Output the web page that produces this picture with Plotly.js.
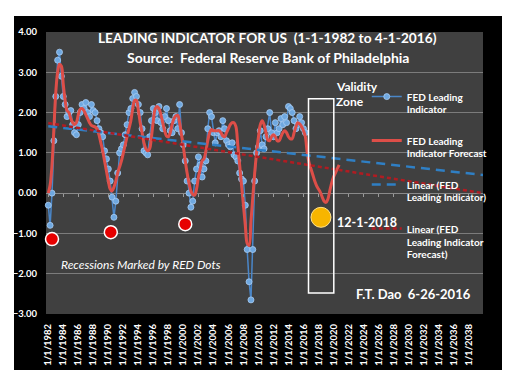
<!DOCTYPE html>
<html>
<head>
<meta charset="utf-8">
<script src="https://cdn.plot.ly/plotly-3.0.1.min.js"></script>
<style>
  html, body { margin: 0; padding: 0; background: #ffffff; width: 516px; height: 387px; overflow: hidden; }
  #chart { position: absolute; left: 14px; top: 16px; width: 488px; height: 354px; }
</style>
</head>
<body>
<div id="chart"></div>
<script>
// ---- DATA ----
// FED Leading Indicator, quarterly readings starting 1982-01
const ledStart = 1982;
const ledValues = [
  -0.3, -0.8, 0.0, 1.3,        // 1982
  2.4, 3.3, 3.5, 2.9,          // 1983
  2.4, 2.2, 1.9, 2.0,          // 1984
  2.05, 1.7, 1.5, 1.45,        // 1985
  1.7, 2.0, 2.2, 2.1,          // 1986
  2.25, 2.0, 1.9, 2.2,         // 1987
  2.05, 2.0, 1.8, 1.6,         // 1988
  1.5, 1.4, 1.05, 0.85,        // 1989
  0.6, 0.3, -0.1, -0.6,        // 1990
  -0.2, 0.5, 1.0, 1.1,         // 1991
  1.2, 1.45, 1.7, 2.0,         // 1992
  2.1, 2.35, 2.5, 2.4,         // 1993
  2.2, 2.0, 1.6, 1.05,         // 1994
  1.0, 0.95, 1.4, 1.8,         // 1995
  2.1, 2.0, 1.8, 2.15,         // 1996
  1.75, 1.6, 1.9, 2.1,         // 1997
  1.8, 1.55, 1.5, 1.8,         // 1998
  1.9, 1.6, 2.2, 1.5,          // 1999
  1.2, 0.8, 0.3, 0.0,          // 2000
  -0.35, -0.2, 0.3, 0.6,       // 2001
  0.9, 0.7, 0.4, 0.6,          // 2002
  0.8, 1.6, 2.0, 1.9,          // 2003
  1.5, 1.25, 1.5, 1.55,        // 2004
  1.4, 1.8, 1.6, 1.3,          // 2005
  1.2, 1.15, 1.25, 0.95,       // 2006
  0.9, 0.8, 0.5, 0.35,         // 2007
  0.3, -0.3, -1.4, -2.2,       // 2008
  -2.65, -1.4, 0.3, 1.0,       // 2009
  1.15, 1.55, 1.2, 1.1,        // 2010
  1.4, 1.6, 2.0, 1.5,          // 2011
  1.4, 1.75, 1.5, 1.6,         // 2012
  1.85, 1.7, 1.9, 1.75,        // 2013
  2.15, 2.1, 2.0, 1.8,         // 2014
  1.6, 1.7, 1.9, 1.75,         // 2015
  1.6, 1.5                     // 2016
];

// FED Leading Indicator Forecast, quarterly readings starting 1982-01
const fcstStart = 1982;
const fcstValues = [
  0.0, 0.2, 0.7, 1.6,          // 1982
  2.5, 3.0, 3.2, 3.15,         // 1983
  2.7, 2.3, 2.05, 2.0,         // 1984
  1.85, 1.75, 1.7, 1.75,       // 1985
  1.95, 2.08, 2.1, 2.05,       // 1986
  1.95, 1.85, 1.75, 1.68,      // 1987
  1.66, 1.64, 1.6, 1.45,       // 1988
  1.25, 1.05, 0.8, 0.55,       // 1989
  0.3, 0.1, 0.05, 0.15,        // 1990
  0.3, 0.5, 0.65, 0.8,         // 1991
  1.0, 1.2, 1.4, 1.6,          // 1992
  1.8, 2.1, 2.3, 2.3,          // 1993
  2.05, 1.75, 1.5, 1.25,       // 1994
  1.1, 1.05, 1.1, 1.4,         // 1995
  1.8, 2.1, 2.15, 2.1,         // 1996
  1.95, 1.75, 1.55, 1.42,      // 1997
  1.4, 1.5, 1.7, 1.85,         // 1998
  1.92, 1.93, 1.75, 1.45,      // 1999
  1.15, 0.8, 0.5, 0.25,        // 2000
  0.05, -0.03, -0.05, 0.1,     // 2001
  0.4, 0.6, 0.8, 0.85,         // 2002
  1.05, 1.3, 1.5, 1.58,        // 2003
  1.55, 1.55, 1.55, 1.55,      // 2004
  1.5, 1.42, 1.4, 1.5,         // 2005
  1.6, 1.7, 1.75, 1.75,        // 2006
  1.65, 1.2, 0.7, 0.2,         // 2007
  -0.3, -0.8, -1.25, -1.3,     // 2008
  -0.7, -0.1, 0.5, 1.0,        // 2009
  1.4, 1.7, 1.8, 1.7,          // 2010
  1.5, 1.32, 1.3, 1.4,         // 2011
  1.45, 1.4, 1.3, 1.3,         // 2012
  1.4, 1.5, 1.55, 1.5,         // 2013
  1.4, 1.35, 1.35, 1.5,        // 2014
  1.65, 1.75, 1.72, 1.65,      // 2015
  1.55, 1.4, 1.0, 0.75,        // 2016
  0.6, 0.45, 0.3, 0.18,        // 2017
  0.1, 0.02, -0.1, -0.2,       // 2018
  -0.23, -0.15, 0.05, 0.25,    // 2019
  0.4, 0.5, 0.6, 0.7           // 2020
];

// Linear trend lines (end points)
const trendDates = ['1982-01-01', '2039-12-01'];
const trendLeading = [1.66, 0.45];
const trendForecast = [1.74, 0.0];

// Recessions (red dots) and the 12-1-2018 marker
const recessionDates = ['1982-07-01', '1990-05-01', '2000-04-01', '2007-12-01'];
const recessionValues = [-1.14, -0.97, -0.77, -3.03];
const warnDates = ['2018-05-01'];
const warnValues = [-0.6];

// Validity zone box
const zoneX = ['2016-09-01', '2020-01-15'];
const zoneY = [-2.48, 2.34];

// ---- helpers ----
function quarterDates(startYear, n) {
  const out = [];
  for (let i = 0; i < n; i++) {
    const y = startYear + Math.floor(i / 4);
    const m = (i % 4) * 3 + 1;
    out.push(y + '-' + String(m).padStart(2, '0') + '-01');
  }
  return out;
}

const FONT = 'Lato, "Open Sans", "DejaVu Sans", sans-serif';
const white = '#ffffff';

const traces = [
  {
    x: quarterDates(ledStart, ledValues.length), y: ledValues,
    type: 'scatter', mode: 'lines+markers',
    name: 'FED Leading<br>Indicator', legendgroup: 'g1',
    line: { color: '#4a86c8', width: 1.5 },
    marker: { symbol: 'circle', size: 6, color: '#6fa8e0', line: { color: '#a9cdf2', width: 0.8 } },
    cliponaxis: false
  },
  {
    x: quarterDates(fcstStart, fcstValues.length), y: fcstValues,
    type: 'scatter', mode: 'lines',
    name: 'FED Leading<br>Indicator Forecast', legendgroup: 'g2',
    line: { color: '#dd4e48', width: 3, shape: 'spline', smoothing: 1 }
  },
  {
    x: trendDates, y: trendLeading,
    type: 'scatter', mode: 'lines',
    name: 'Linear (FED<br>Leading Indicator)', legendgroup: 'g3',
    line: { color: '#2f7fc4', width: 2.5, dash: '9px,6px' }
  },
  {
    x: trendDates, y: trendForecast,
    type: 'scatter', mode: 'lines',
    name: 'Linear (FED<br>Leading Indicator<br>Forecast)', legendgroup: 'g4',
    line: { color: '#b01c22', width: 2.5, dash: '4px,3px' }
  },
  {
    x: recessionDates, y: recessionValues,
    type: 'scatter', mode: 'markers', showlegend: false, hoverinfo: 'skip',
    marker: { size: 13, color: '#e60000', line: { color: '#ffffff', width: 1.5 } },
    cliponaxis: false
  },
  {
    x: warnDates, y: warnValues,
    type: 'scatter', mode: 'markers', showlegend: false, hoverinfo: 'skip',
    marker: { size: 20, color: '#f7b500', line: { color: '#ffe28a', width: 1 } },
    cliponaxis: false
  },
  {
    x: trendDates, y: [null, null], xaxis: 'x2', yaxis: 'y',
    type: 'scatter', mode: 'lines', showlegend: false, hoverinfo: 'skip'
  }
];

const xRange = ['1981-09-12', '2039-12-01'];

const layout = {
  width: 488, height: 354,
  margin: { l: 32, r: 9, t: 16, b: 56 },
  paper_bgcolor: '#000000',
  plot_bgcolor: '#404040',
  font: { family: FONT, color: white },
  showlegend: true,
  legend: {
    x: 0.734, y: 0.817, xanchor: 'left', yanchor: 'top',
    bgcolor: 'rgba(0,0,0,0)',
    font: { family: FONT, size: 10, color: white, weight: 'bold' },
    traceorder: 'grouped', tracegroupgap: 15, valign: 'top',
    itemwidth: 30
  },
  xaxis: {
    type: 'date', range: xRange,
    tick0: '1982-01-01', dtick: 'M24', tickformat: '%-m/%-d/%Y',
    tickangle: -90, ticks: '', ticklabelstandoff: 7,
    showgrid: false, zeroline: false, showline: false,
    tickfont: { family: FONT, size: 9.5, color: white, weight: 'bold' }
  },
  xaxis2: {
    type: 'date', range: xRange, overlaying: 'x', anchor: 'free', position: 3 / 7,
    tick0: '1982-01-01', dtick: 'M24', ticks: 'outside', ticklen: 3, tickcolor: '#9a9a9a',
    showticklabels: false, showgrid: false, zeroline: false, showline: false
  },
  yaxis: {
    range: [-3, 4], dtick: 1, tick0: 0, tickformat: '.2f',
    ticks: '', ticklabelstandoff: 8,
    showgrid: true, gridcolor: '#7c7c7c', gridwidth: 1,
    zeroline: true, zerolinecolor: '#8a8a8a', zerolinewidth: 1,
    tickfont: { family: FONT, size: 9.5, color: white, weight: 'bold' }
  },
  shapes: [
    {
      type: 'rect', xref: 'x', yref: 'y',
      x0: zoneX[0], x1: zoneX[1], y0: zoneY[0], y1: zoneY[1],
      line: { color: '#ffffff', width: 1.5 }, fillcolor: 'rgba(0,0,0,0)'
    }
  ],
  annotations: [
    { text: 'LEADING INDICATOR FOR US\u00a0\u00a0(1-1-1982 to 4-1-2016)', xref: 'paper', yref: 'paper',
      x: 0.508, y: 0.979, xanchor: 'center', yanchor: 'middle', showarrow: false,
      font: { family: FONT, size: 13.7, color: white, weight: 'bold' } },
    { text: 'Source:\u00a0\u00a0Federal Reserve Bank of Philadelphia', xref: 'paper', yref: 'paper',
      x: 0.508, y: 0.911, xanchor: 'center', yanchor: 'middle', showarrow: false,
      font: { family: FONT, size: 14, color: white, weight: 'bold' } },
    { text: 'Validity', xref: 'paper', yref: 'paper', x: 0.658, y: 0.805,
      xanchor: 'left', yanchor: 'middle', showarrow: false,
      font: { family: FONT, size: 12, color: white, weight: 'bold' } },
    { text: 'Zone', xref: 'paper', yref: 'paper', x: 0.658, y: 0.752,
      xanchor: 'left', yanchor: 'middle', showarrow: false,
      font: { family: FONT, size: 12, color: white, weight: 'bold' } },
    { text: '12-1-2018', xref: 'paper', yref: 'paper', x: 0.662, y: 0.326,
      xanchor: 'left', yanchor: 'middle', showarrow: false,
      font: { family: FONT, size: 12.5, color: white, weight: 'bold' } },
    { text: '<i>Recessions Marked by RED Dots</i>', xref: 'paper', yref: 'paper', x: 0.029, y: 0.174,
      xanchor: 'left', yanchor: 'middle', showarrow: false,
      font: { family: FONT, size: 12, color: white } },
    { text: 'F.T. Dao\u00a0\u00a06-26-2016', xref: 'paper', yref: 'paper', x: 0.705, y: 0.071,
      xanchor: 'left', yanchor: 'middle', showarrow: false,
      font: { family: FONT, size: 13, color: white, weight: 'bold' } }
  ]
};

Plotly.newPlot('chart', traces, layout, { staticPlot: true, displayModeBar: false });
</script>
</body>
</html>
